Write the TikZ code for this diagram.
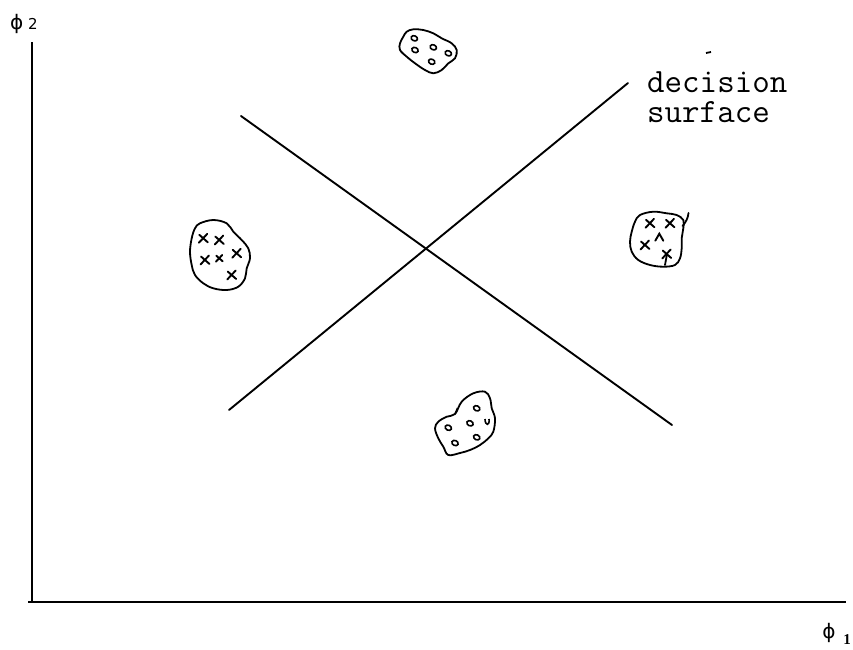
\documentclass[tikz,border=0pt]{standalone}
\usepackage{fontspec}
\newfontfamily\symfont{DejaVu Sans}
\newfontfamily\seriffont{Liberation Serif}
\begin{document}
\begin{tikzpicture}[x=1pt,y=-1pt,
  axis/.style={line width=2.2pt},
  surf/.style={line width=1.9pt, line cap=round},
  blob/.style={line width=1.8pt, line join=round},
  dotmark/.style={line width=1.6pt},
  labeltext/.style={anchor=base west, inner sep=0pt, text height=21pt, text depth=6pt, font=\ttfamily\fontsize{34}{30}\selectfont},
  xmark/.pic={\draw[line width=1.9pt, line cap=round] (-4.5,4.5) -- (4,-4.5); \draw[line width=1.9pt, line cap=round] (-4,-3.5) -- (4.5,4);},
  vmark/.pic={\draw[line width=1.9pt, line cap=round] (-4,4) -- (0,-3) -- (4,4);}
]
\useasboundingbox (0,0) rectangle (853,649);
% axes
\coordinate (ytop) at (32,42);
\coordinate (origin) at (32,602);
\coordinate (xstart) at (28,602);
\coordinate (xend) at (846,602);
\draw[axis] (ytop) -- (origin);
\draw[axis] (xstart) -- (xend);
\node[anchor=west, inner sep=0pt, font=\symfont\fontsize{20}{20}\selectfont] (phi2) at (10,24) {ϕ};
\node[anchor=west, inner sep=0pt, font=\symfont\fontsize{15}{15}\selectfont] (two) at (28,24) {2};
\node[anchor=center, inner sep=0pt, font=\symfont\fontsize{20}{20}\selectfont] (phi1) at (829,633) {ϕ};
\node[anchor=center, inner sep=0pt, font=\seriffont\bfseries\fontsize{15}{15}\selectfont] (one) at (847,640) {1};
% decision surfaces
\coordinate (nw) at (241,116);
\coordinate (se) at (672,425);
\coordinate (sw) at (229,410);
\coordinate (ne) at (628,83);
\draw[surf] (nw) -- (se);
\draw[surf] (sw) -- (ne);
\node[labeltext] (label1) at (647,92) {decision};
\node[labeltext] (label2) at (647,122) {surface};
\coordinate (tickA) at (706,53);
\coordinate (tickB) at (711,52);
\draw[line width=1.8pt] (tickA) -- (tickB);
% top blob (circles)
\draw[blob] plot[smooth cycle, tension=0.6] coordinates {(406.7,31.7) (413.3,29.3) (423.3,30) (433.3,33.3) (441.7,38.3) (451.7,43.3) (456.7,50) (455,58.3) (448.3,63.3) (441.7,70) (433.3,73.3) (425,70) (415,63.3) (406.7,56.7) (400,50) (400,43.3) (403.3,36.7)};
\foreach \p in {(414.3,38.3),(415,50),(433.3,47.3),(448.3,53.3),(431.7,61.7)}
  \draw[dotmark, rotate around={-25:\p}] \p ellipse (3.3 and 2.5);
% left blob (crosses)
\draw[blob] plot[smooth cycle, tension=0.6] coordinates {(200,223.3) (213.3,220) (226.7,223.3) (233.3,231.7) (241.7,240) (248.3,248.3) (250,258.3) (246.7,268.3) (245,278.3) (238.3,286.7) (226.7,290) (213.3,288.3) (203.3,283.3) (195,275) (191.7,265) (190,251.7) (191.7,238.3) (195,228.3)};
\foreach \p in {(203.3,238.3),(219.3,240),(205,260),(236.7,253.3),(231.7,275)}
  \pic at \p {xmark};
\pic[scale=0.75] at (219.3,258.3) {xmark};
% right blob (crosses)
\draw[blob] plot[smooth cycle, tension=0.6] coordinates {(640,215) (653.3,211.7) (666.7,213.3) (676.7,215) (683.3,220) (683.3,228.3) (681.7,238.3) (681.7,248.3) (680,258.3) (675,265) (663.3,266.7) (650,265) (638.3,260) (631.7,251.7) (630,241.7) (631.7,231.7) (635,221.7)};
\draw[blob, line cap=round] (682.5,226) .. controls (686,222) and (688,218) .. (688.5,213);
\foreach \p in {(650,223.3),(670,223.3),(645,245)}
  \pic at \p {xmark};
\pic at (659.3,236.7) {vmark};
\pic at (666.7,254) {xmark};
\draw[line width=1.8pt, line cap=round] (667,254) -- (665,265);
% bottom blob (circles)
\draw[blob] plot[smooth cycle, tension=0.6] coordinates {(461.7,401.7) (473.3,393.3) (485,391.7) (490,398.3) (491.7,408.3) (495,418.3) (493.3,431.7) (488.3,438.3) (480,445) (470,450) (460,453) (448.3,455) (443.3,446.7) (438.3,438.3) (435,428.3) (438.3,421.7) (446.7,416.7) (455,414)};
\draw[line width=1.5pt] (455,414) -- (457.5,408);
\foreach \p in {(476.7,408.3),(448.3,427.7),(470,423.3),(476.7,437.3),(455,443)}
  \draw[dotmark, rotate around={-25:\p}] \p ellipse (3.3 and 2.5);
\draw[dotmark] (485,419) .. controls (485,426) and (490,426) .. (489,419);
\end{tikzpicture}
\end{document}
